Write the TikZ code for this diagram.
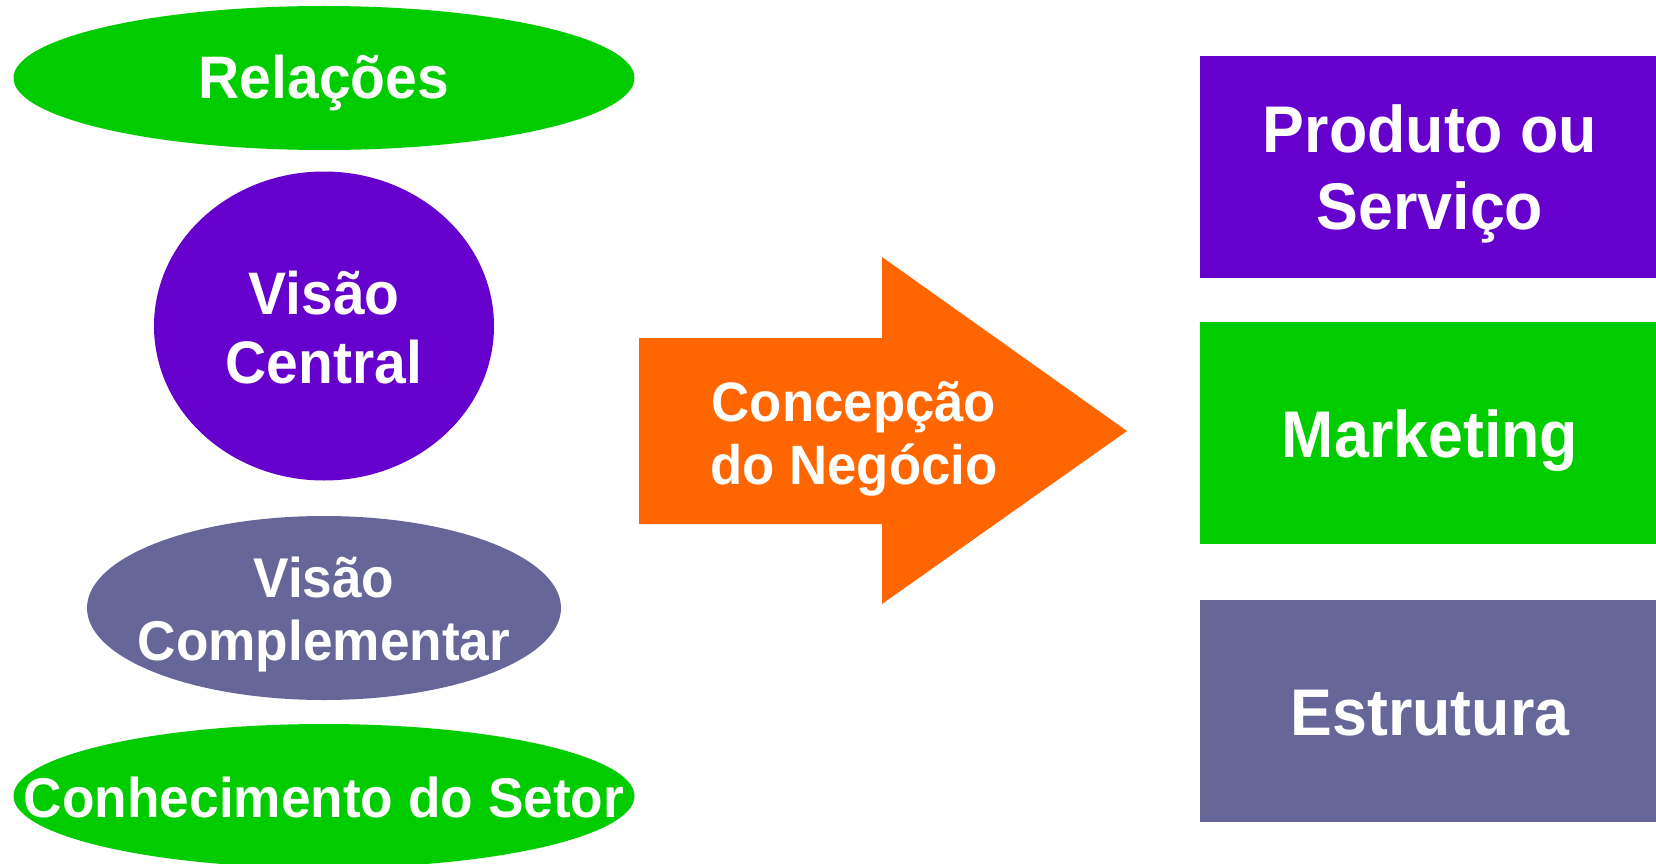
\documentclass[tikz,border=0pt]{standalone}
\usepackage{fontspec}
\newfontfamily\lblfont{Liberation Sans}[FakeStretch=0.95]
\usetikzlibrary{shapes.geometric}
\definecolor{cgreen}{HTML}{00CC00}
\definecolor{cpurple}{HTML}{6600CC}
\definecolor{cslate}{HTML}{666699}
\definecolor{corange}{HTML}{FF6600}
\newcommand\myfs[2]{\lblfont\bfseries\fontsize{#1}{#2}\selectfont}
\begin{document}
\begin{tikzpicture}[x=1pt,y=-1pt,
  blob/.style={ellipse, inner sep=0pt, draw=none},
  panel/.style={rectangle, inner sep=0pt, draw=none, anchor=north west,
                minimum width=456pt, minimum height=222pt},
  lbl/.style={text=white, align=center, inner sep=0pt, anchor=base}]
\fill[white] (0,0) rectangle (1656,864);
\useasboundingbox (0,0) rectangle (1656,864);

% left column
\node[blob, fill=cgreen, minimum width=621pt, minimum height=144pt] (rel) at (324,78) {};
\node[blob, fill=cpurple, minimum width=340pt, minimum height=309pt] (vc) at (324,326) {};
\node[blob, fill=cslate, minimum width=474pt, minimum height=184pt] (vcomp) at (324,608) {};
\node[blob, fill=cgreen, minimum width=621pt, minimum height=144pt] (con) at (324,796) {};

% base anchor of a multi-line node = baseline of its last line
\node[lbl, font=\myfs{60}{69}] (relt) at (324,99) {Relações};
\node[lbl, font=\myfs{60}{69}] (vct) at (324,383) {Visão\\Central};
\node[lbl, font=\myfs{56}{63}] (vcompt) at (324,660) {Visão\\Complementar};
\node[lbl, font=\myfs{56}{63}] (cont) at (324,817) {Conhecimento do Setor};

% arrow
\fill[corange] (639,338) -- (882,338) -- (882,257) -- (1127,431)
  -- (882,604) -- (882,524) -- (639,524) -- cycle;
\node[lbl, font=\myfs{55.5}{63}] (arrt) at (854,484) {Concepção\\do Negócio};

% right column
\node[panel, fill=cpurple] (prod) at (1200,56) {};
\node[panel, fill=cgreen] (mkt) at (1200,322) {};
\node[panel, fill=cslate] (est) at (1200,600) {};

\node[lbl, font=\myfs{66}{76.6}] (prodt) at (1430,229.5) {Produto ou\\Serviço};
\node[lbl, font=\myfs{66}{76.6}] (mktt) at (1430,457) {Marketing};
\node[lbl, font=\myfs{66}{76.6}] (estt) at (1430,735) {Estrutura};
\end{tikzpicture}
\end{document}
